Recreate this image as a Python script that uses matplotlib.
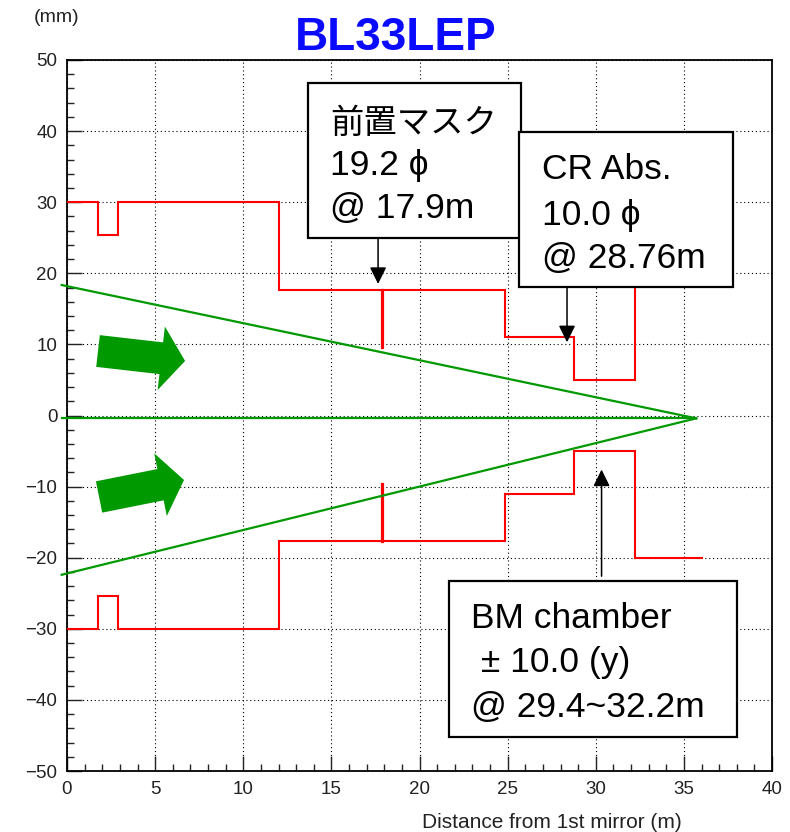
import matplotlib
matplotlib.use("Agg")
import matplotlib.pyplot as plt
from matplotlib.patches import Rectangle
from matplotlib.ticker import MultipleLocator

# aperture profile: step edges along the beamline (m) and half-aperture (mm)
edges = [0, 1.76, 2.9, 12.05, 24.85, 28.76, 32.25, 36.1]
upper = [30, 25.4, 30, 17.6, 11.1, 5.0, 20.0]
lower = [-30, -25.4, -30, -17.6, -11.1, -5.0, -20.0]

# front mask (19.2 phi @ 17.9 m)
mask_pos = 17.9
mask_inner = 9.6
mask_outer = 17.6

# beam envelope (green)
beam_x = [-0.3, 35.7]
beam_top = [18.35, -0.4]
beam_bottom = [-22.4, -0.4]
beam_axis = [-0.4, -0.4]

# annotation boxes: (x0, x1, y0, y1), text x, baselines, lines, arrow (x, y_from, y_to)
boxes = [
    ((13.67, 25.76, 24.96, 46.76), 14.92, [39.73, 33.83, 27.78],
     ["前置マスク", "19.2 ϕ", "@ 17.9m"], (17.65, 24.96, 18.5)),
    ((25.65, 37.79, 18.07, 39.87), 26.95, [33.26, 26.79, 20.75],
     ["CR Abs.", "10.0 ϕ", "@ 28.76m"], (28.37, 18.07, 10.3)),
    ((21.67, 38.01, -45.22, -23.28), 22.92, [-29.89, -36.08, -42.4],
     ["BM chamber", " ± 10.0 (y)", "@ 29.4~32.2m"], (30.33, -22.6, -7.6)),
]

GREEN = "#009900"
RED = "#ff0000"
TXT = ["Liberation Sans", "DejaVu Sans", "Noto Sans CJK JP"]

fig = plt.figure(figsize=(7.9, 8.32), dpi=100)
ax = fig.add_axes([67 / 790, 1 - 771 / 832, 705 / 790, 711 / 832])
ax.set_xlim(0, 40)
ax.set_ylim(-50, 50)

ax.grid(True, which="major", color="black", linestyle=(0, (1, 2.5)), linewidth=0.8)
ax.set_axisbelow(True)
ax.xaxis.set_major_locator(MultipleLocator(5))
ax.xaxis.set_minor_locator(MultipleLocator(1))
ax.yaxis.set_major_locator(MultipleLocator(10))
ax.yaxis.set_minor_locator(MultipleLocator(2))
ax.tick_params(which="both", direction="in", top=False, right=False,
               labelsize=13.5, colors="#222222")
ax.tick_params(which="major", length=11, width=1.0, pad=7)
ax.tick_params(which="minor", length=5, width=1.0)
for lab in ax.get_xticklabels() + ax.get_yticklabels():
    lab.set_family("Liberation Sans")
for sp in ax.spines.values():
    sp.set_linewidth(1.3)

# red aperture profile
ax.stairs(upper, edges, baseline=None, color=RED, linewidth=1.5, zorder=3)
ax.stairs(lower, edges, baseline=None, color=RED, linewidth=1.5, zorder=3)
ax.plot([mask_pos, mask_pos], [mask_outer, mask_inner], color=RED, linewidth=2.3, zorder=3)
ax.plot([mask_pos, mask_pos], [-mask_outer, -mask_inner], color=RED, linewidth=2.3, zorder=3)

# green beam envelope
for ys in (beam_top, beam_bottom, beam_axis):
    ax.plot(beam_x, ys, color=GREEN, linewidth=1.6, clip_on=False, zorder=3)

# fat green arrows
for tail, tip in [((1.76, 9.07), (6.70, 7.67)), ((1.82, -11.46), (6.64, -9.07))]:
    ax.annotate("", xy=tip, xytext=tail,
                arrowprops=dict(arrowstyle="simple,head_length=0.75,head_width=2.0,tail_width=1.0",
                                mutation_scale=23, color=GREEN, shrinkA=0, shrinkB=0,
                                linewidth=0),
                zorder=4)

# annotation boxes
for (x0, x1, y0, y1), tx, bls, lines, (axx, ya, yb) in boxes:
    ax.add_patch(Rectangle((x0, y0), x1 - x0, y1 - y0, facecolor="white",
                           edgecolor="black", linewidth=1.6, zorder=6, clip_on=False))
    for bl, s in zip(bls, lines):
        size = 24 if s == "前置マスク" else 25.5
        ax.text(tx, bl, s, fontsize=size, family=TXT, va="baseline", ha="left",
                color="black", zorder=7)
    ax.annotate("", xy=(axx, yb), xytext=(axx, ya),
                arrowprops=dict(arrowstyle="-|>,head_length=0.85,head_width=0.42",
                                mutation_scale=12, color="black", linewidth=1.1,
                                shrinkA=0, shrinkB=0),
                zorder=7)

fig.text(396 / 790, 1 - 50 / 832, "BL33LEP", fontsize=33, fontweight="bold",
         color="#0a0aff", family="Liberation Sans", ha="center", va="baseline")
fig.text(57 / 790, 1 - 18 / 832, "(mm)", fontsize=14, family="Liberation Sans",
         color="#222222", ha="center", va="center")
fig.text(552 / 790, 1 - 822 / 832, "Distance from 1st mirror (m)", fontsize=15,
         family="Liberation Sans", color="#222222", ha="center", va="center")

fig.savefig("out.png", dpi=100)
